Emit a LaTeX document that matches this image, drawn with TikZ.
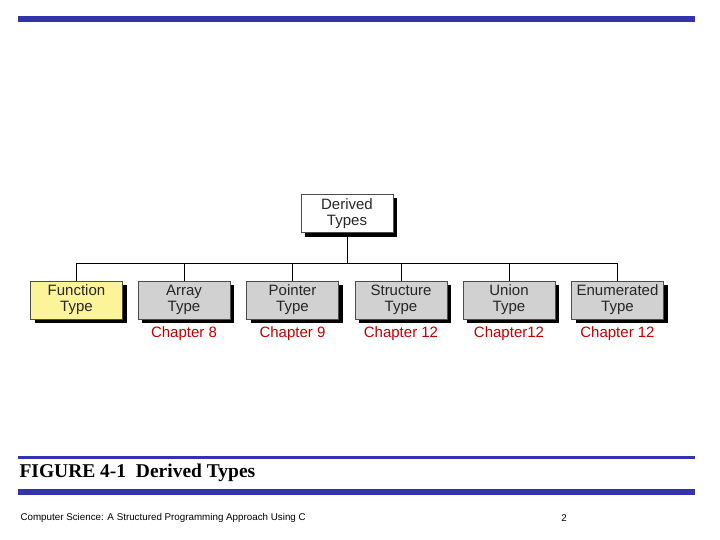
\documentclass[tikz,border=0pt]{standalone}
\usepackage{fontspec}
\setmainfont{Liberation Serif}
\newfontfamily\arial{Liberation Sans}
\begin{document}
\begin{tikzpicture}[x=1pt,y=-1pt,
 tbox/.style={draw=black!70,line width=0.6pt,fill=black!18,minimum width=92pt,minimum height=38pt,inner sep=0pt,align=center,font=\arial\fontsize{15}{16}\selectfont,text=black!85},
 chap/.style={text=red!75!black,font=\arial\fontsize{15}{15}\selectfont,anchor=center}]
\useasboundingbox (0,0) rectangle (720,540);
\fill[fill={rgb,255:red,51;green,51;blue,170}] (18,16) rectangle (695,22);
\fill[fill={rgb,255:red,51;green,51;blue,170}] (18,456) rectangle (695,459);
\fill[fill={rgb,255:red,51;green,51;blue,170}] (18,489) rectangle (695,495);
% shadows
\foreach \x/\y in {347/213.5,76.5/300,184/300,292.5/300,401/300,509/300,617.5/300}
  \fill (\x-42,\y-15) rectangle (\x+50,\y+23);
\node[tbox,fill=white] (d) at (347,213.5) {Derived\\Types};
\node[tbox,fill={rgb,255:red,253;green,243;blue,153}] (f) at (76.5,300) {Function\\Type};
\node[tbox] (a) at (184,300) {Array\\Type};
\node[tbox] (p) at (292.5,300) {Pointer\\Type};
\node[tbox] (s) at (401,300) {Structure\\Type};
\node[tbox] (u) at (509,300) {Union\\Type};
\node[tbox] (e) at (617.5,300) {Enumerated\\Type};
\coordinate (j) at (347,263);
\draw[line width=0.8pt] (d.south) -- (j);
\foreach \n in {f,a,p,s,u,e} \draw[line width=0.8pt] (\n.north) |- (j);
\node[chap] (c1) at (184,334) {Chapter 8};
\node[chap] (c2) at (292.5,334) {Chapter 9};
\node[chap] (c3) at (401,334) {Chapter 12};
\node[chap] (c4) at (509,334) {Chapter12};
\node[chap] (c5) at (617.5,334) {Chapter 12};
\node[anchor=west,font=\bfseries\fontsize{19.5}{20}\selectfont] (cap) at (16,473) {FIGURE 4-1\ \ Derived Types};
\node[anchor=west,font=\arial\fontsize{9.8}{10}\selectfont] (ft) at (17,518) {Computer Science: A Structured Programming Approach Using C};
\node[font=\arial\fontsize{9.8}{10}\selectfont] (pg) at (564,518) {2};
\end{tikzpicture}
\end{document}
